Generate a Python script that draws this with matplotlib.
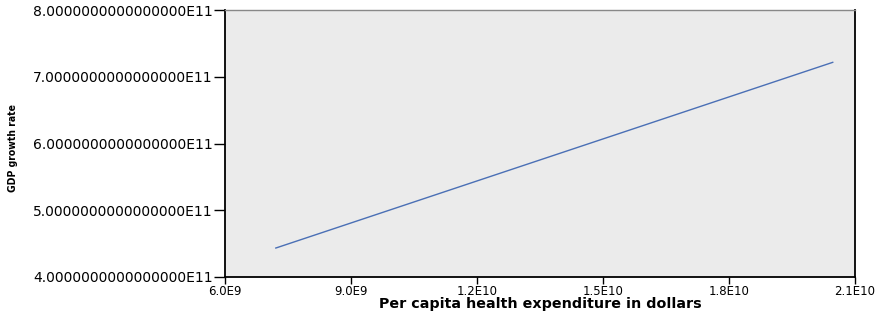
import matplotlib
matplotlib.use("Agg")
import matplotlib.pyplot as plt
from matplotlib.ticker import FuncFormatter

# fitted line endpoints
spend = [7.21e9, 2.047e10]
gdp = [4.434e11, 7.216e11]

x_ticks = [6.0e9, 9.0e9, 1.2e10, 1.5e10, 1.8e10, 2.1e10]
x_labels = ["6.0E9", "9.0E9", "1.2E10", "1.5E10", "1.8E10", "2.1E10"]
y_ticks = [4e11, 5e11, 6e11, 7e11, 8e11]


def y_fmt(v, pos):
    m = v / 1e11
    return "%.16fE11" % m


fig = plt.figure(figsize=(8.83, 3.11), dpi=100)
ax = fig.add_axes([225 / 883, 1 - 277 / 311, 630 / 883, 267 / 311])
ax.set_facecolor("#ebebeb")

ax.plot(spend, gdp, color="#4a6fb5", linewidth=1.0)

ax.set_xlim(6.0e9, 2.1e10)
ax.set_ylim(4e11, 8e11)
ax.set_xticks(x_ticks)
ax.set_xticklabels(x_labels)
ax.set_yticks(y_ticks)
ax.yaxis.set_major_formatter(FuncFormatter(y_fmt))

ax.tick_params(axis="both", direction="out", width=1, color="black", pad=1)
ax.tick_params(axis="y", length=8, labelsize=10)
ax.tick_params(axis="x", length=5, labelsize=8.5, pad=0.5)
for s in ["left", "bottom", "right"]:
    ax.spines[s].set_color("black")
    ax.spines[s].set_linewidth(1.3)
ax.spines["top"].set_color("#888888")
ax.spines["top"].set_linewidth(1.0)

ax.set_xlabel("Per capita health expenditure in dollars", fontsize=10.3,
              fontweight="bold", va="center")
ax.xaxis.set_label_coords(0.5, -(304 - 277) / 267)
ax.set_ylabel("GDP growth rate", fontsize=7.5, fontweight="bold",
              fontstretch="condensed", va="center")
ax.yaxis.set_label_coords(-212 / 630, 0.483)

fig.savefig("out.png", dpi=100)
